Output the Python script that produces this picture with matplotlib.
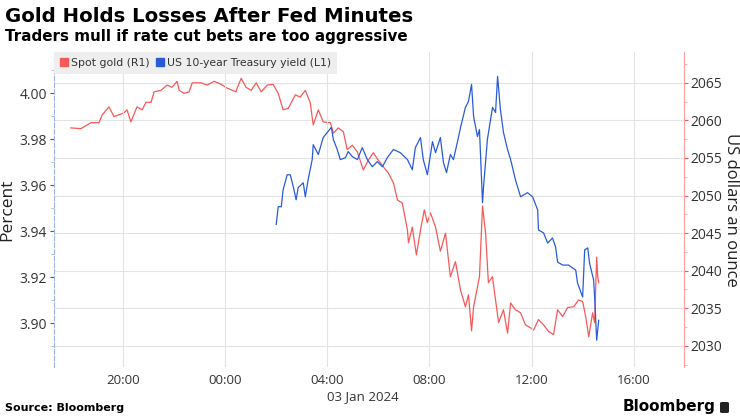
import pandas as pd
import matplotlib
matplotlib.use("Agg")
import matplotlib.pyplot as plt
import matplotlib.dates as mdates
from matplotlib.patches import Patch, FancyBboxPatch
from matplotlib.ticker import MultipleLocator, FormatStrFormatter

# hours relative to 03 Jan 2024 00:00
gold_hours = [-6.04, -5.65, -5.25, -4.94, -4.82, -4.55, -4.35, -3.96, -3.84, -3.69,
              -3.45, -3.25, -3.10, -2.90, -2.78, -2.51, -2.27, -2.08, -1.88, -1.80,
              -1.61, -1.41, -1.29, -0.94, -0.71, -0.43, -0.16, 0.08, 0.43, 0.47,
              0.63, 0.82, 1.02, 1.22, 1.41, 1.65, 1.88, 2.08, 2.27, 2.47,
              2.75, 2.94, 3.14, 3.33, 3.45, 3.65, 3.84, 4.12, 4.24, 4.43,
              4.63, 4.78, 4.98, 5.18, 5.41, 5.61, 5.80, 6.00, 6.20, 6.39,
              6.59, 6.75, 6.94, 7.14, 7.18, 7.33, 7.49, 7.65, 7.80, 7.92,
              8.04, 8.24, 8.43, 8.63, 8.82, 9.02, 9.22, 9.41, 9.53, 9.65,
              9.73, 9.88, 9.96, 10.08, 10.20, 10.31, 10.47, 10.59, 10.71, 10.90,
              11.06, 11.18, 11.37, 11.57, 11.76, 11.96, 12.08, 12.27, 12.47, 12.67,
              12.86, 13.02, 13.22, 13.41, 13.65, 13.84, 14.00, 14.12, 14.24, 14.39,
              14.47, 14.55, 14.59, 14.63]
gold = [2059.0, 2058.9, 2059.7, 2059.7, 2060.7, 2061.8, 2060.5, 2061.0, 2061.4, 2059.8,
        2061.8, 2061.4, 2062.4, 2062.4, 2063.8, 2064.0, 2064.7, 2064.4, 2065.2, 2064.0,
        2063.6, 2063.8, 2065.0, 2065.0, 2064.7, 2065.2, 2064.8, 2064.3, 2063.8, 2064.3,
        2065.6, 2064.4, 2064.0, 2065.0, 2063.8, 2064.7, 2064.8, 2063.6, 2061.4, 2061.6,
        2063.4, 2063.1, 2064.0, 2062.4, 2059.4, 2061.4, 2059.8, 2059.7, 2058.3, 2059.0,
        2058.5, 2056.1, 2056.7, 2055.8, 2053.4, 2054.7, 2055.7, 2054.7, 2053.8, 2053.0,
        2051.7, 2049.4, 2049.0, 2045.4, 2043.7, 2045.8, 2042.1, 2045.4, 2048.1, 2046.4,
        2047.7, 2045.8, 2042.6, 2045.0, 2039.2, 2041.2, 2037.4, 2035.2, 2036.8, 2032.0,
        2035.2, 2037.8, 2039.2, 2048.6, 2045.0, 2038.4, 2039.2, 2036.1, 2033.1, 2034.8,
        2031.7, 2035.7, 2034.8, 2034.4, 2032.8, 2032.4, 2032.1, 2033.5, 2032.8, 2031.9,
        2031.5, 2034.8, 2033.9, 2035.1, 2035.2, 2036.1, 2035.9, 2033.9, 2031.2, 2034.4,
        2033.1, 2041.8, 2039.2, 2038.4]

yield_hours = [2.00, 2.08, 2.20, 2.27, 2.43, 2.55, 2.67, 2.78, 2.86, 3.06,
               3.14, 3.25, 3.41, 3.45, 3.65, 3.84, 4.00, 4.16, 4.24, 4.39,
               4.51, 4.71, 4.82, 4.98, 5.18, 5.37, 5.57, 5.76, 5.96, 6.16,
               6.35, 6.59, 6.86, 7.14, 7.33, 7.45, 7.65, 7.76, 7.92, 8.12,
               8.24, 8.43, 8.55, 8.67, 8.82, 8.94, 9.10, 9.22, 9.41, 9.53,
               9.65, 9.73, 9.88, 9.96, 10.08, 10.12, 10.27, 10.47, 10.59, 10.67,
               10.78, 10.90, 11.06, 11.18, 11.37, 11.57, 11.84, 12.04, 12.24, 12.27,
               12.47, 12.63, 12.82, 12.94, 13.02, 13.22, 13.45, 13.73, 13.80, 14.00,
               14.08, 14.20, 14.27, 14.43, 14.47, 14.55, 14.63]
yields = [3.943, 3.9507, 3.9507, 3.958, 3.9646, 3.9646, 3.9594, 3.9537, 3.959, 3.9611,
          3.955, 3.9624, 3.9712, 3.9777, 3.9734, 3.9808, 3.983, 3.9852, 3.9799, 3.9756,
          3.9712, 3.972, 3.9747, 3.9725, 3.9712, 3.9764, 3.9712, 3.9681, 3.9703, 3.9681,
          3.972, 3.9756, 3.9742, 3.9712, 3.9668, 3.9764, 3.9808, 3.9712, 3.9646, 3.979,
          3.9742, 3.9808, 3.9699, 3.9655, 3.9734, 3.9712, 3.979, 3.9852, 3.9939, 3.9965,
          4.0039, 3.990, 3.9812, 3.9843, 3.9524, 3.9594, 3.9799, 3.9939, 3.9917, 4.0074,
          3.993, 3.983, 3.9756, 3.9712, 3.9624, 3.955, 3.9568, 3.955, 3.9493, 3.9406,
          3.9393, 3.9349, 3.9371, 3.9332, 3.9266, 3.9253, 3.9253, 3.9231, 3.9175, 3.9114,
          3.9319, 3.9328, 3.9262, 3.9188, 3.9114, 3.8926, 3.9013]

day = pd.Timestamp("2024-01-03")
gold_t = day + pd.to_timedelta(gold_hours, unit="h")
yield_t = day + pd.to_timedelta(yield_hours, unit="h")

RED = "#f55a5a"
BLUE = "#2a5bd7"
plt.rcParams["font.family"] = ["Open Sans", "DejaVu Sans"]

fig = plt.figure(figsize=(7.4, 4.16), dpi=100)
ax = fig.add_axes([0.073, 0.118, 0.851, 0.757])
ax2 = ax.twinx()
ax.set_zorder(ax2.get_zorder() + 1)
ax.patch.set_visible(False)

ax2.plot(gold_t, gold, color=RED, lw=0.9)
ax.plot(yield_t, yields, color=BLUE, lw=0.9)

ax.set_xlim(day + pd.Timedelta(hours=-6.7), day + pd.Timedelta(hours=17.96))
ax.set_ylim(3.881, 4.018)
ax2.set_ylim(2027.2, 2069.1)

ax.xaxis.set_major_locator(mdates.HourLocator(byhour=[0, 4, 8, 12, 16, 20]))
ax.xaxis.set_major_formatter(mdates.DateFormatter("%H:%M"))
ax.grid(axis="x", color="#e3e3e3", lw=0.8)
ax2.grid(axis="y", color="#e3e3e3", lw=0.8)

ax.yaxis.set_major_locator(MultipleLocator(0.02))
ax.yaxis.set_minor_locator(MultipleLocator(0.01))
ax.yaxis.set_major_formatter(FormatStrFormatter("%.2f"))
ax2.yaxis.set_major_locator(MultipleLocator(5))
ax2.yaxis.set_minor_locator(MultipleLocator(2.5))

for a in (ax, ax2):
    for s in ("top", "bottom"):
        a.spines[s].set_visible(False)
ax.spines["right"].set_visible(False)
ax2.spines["left"].set_visible(False)
ax.spines["left"].set_color("#9fb3e6")
ax.spines["left"].set_linestyle((0, (4, 2)))
ax2.spines["right"].set_color("#ff9c9c")

ax.tick_params(axis="x", length=0, labelsize=9.5, colors="#333333", pad=5)
ax.tick_params(axis="y", which="major", length=3, color=BLUE, labelsize=10, labelcolor="#333333", pad=2)
ax.tick_params(axis="y", which="minor", length=2, color="#9fb3e6")
ax2.tick_params(axis="y", which="major", length=3, color=RED, labelsize=10, labelcolor="#333333", pad=2)
ax2.tick_params(axis="y", which="minor", length=2, color="#ff9c9c")

ax.set_ylabel("Percent", fontsize=12.5, color="#222222", labelpad=3)
ax2.set_ylabel("US dollars an ounce", fontsize=12, color="#222222", rotation=270, labelpad=12)

handles = [Patch(color=RED, label="Spot gold (R1)"),
           Patch(color=BLUE, label="US 10-year Treasury yield (L1)")]
leg = ax.legend(handles=handles, loc="upper left", bbox_to_anchor=(0.0, 1.0), ncol=2,
                frameon=True, fancybox=False, facecolor="#eeeeee", edgecolor="none",
                framealpha=1, handlelength=0.7, handleheight=0.7, handletextpad=0.3,
                columnspacing=0.6, borderpad=0.55, borderaxespad=0,
                prop={"family": "DejaVu Sans", "size": 7.8})
for t in leg.get_texts():
    t.set_color("#333333")

fig.text(363 / 740, 1 - 397 / 416, "03 Jan 2024", ha="center", va="center",
         fontsize=9.5, color="#333333")

fig.text(0.007, 1 - 17 / 416, "Gold Holds Losses After Fed Minutes", family="DejaVu Sans",
         fontsize=14.2, fontweight="bold", va="center", ha="left", color="black")
fig.text(0.007, 1 - 37 / 416, "Traders mull if rate cut bets are too aggressive",
         family="DejaVu Sans", fontsize=10.9, fontweight="bold", va="center", ha="left",
         color="black")
fig.text(0.007, 1 - 408 / 416, "Source: Bloomberg", family="DejaVu Sans", fontsize=8,
         fontweight="bold", va="center", ha="left", color="black")
fig.text(716 / 740, 1 - 407 / 416, "Bloomberg", family="DejaVu Sans", fontsize=11,
         fontweight="bold", va="center", ha="right", color="black")
fig.patches.append(FancyBboxPatch((720 / 740, 1 - 413 / 416), 9 / 740, 11 / 416,
                                  boxstyle="round,pad=0,rounding_size=0.003",
                                  transform=fig.transFigure, facecolor="#222222",
                                  edgecolor="none"))

fig.savefig("out.png", dpi=100)
